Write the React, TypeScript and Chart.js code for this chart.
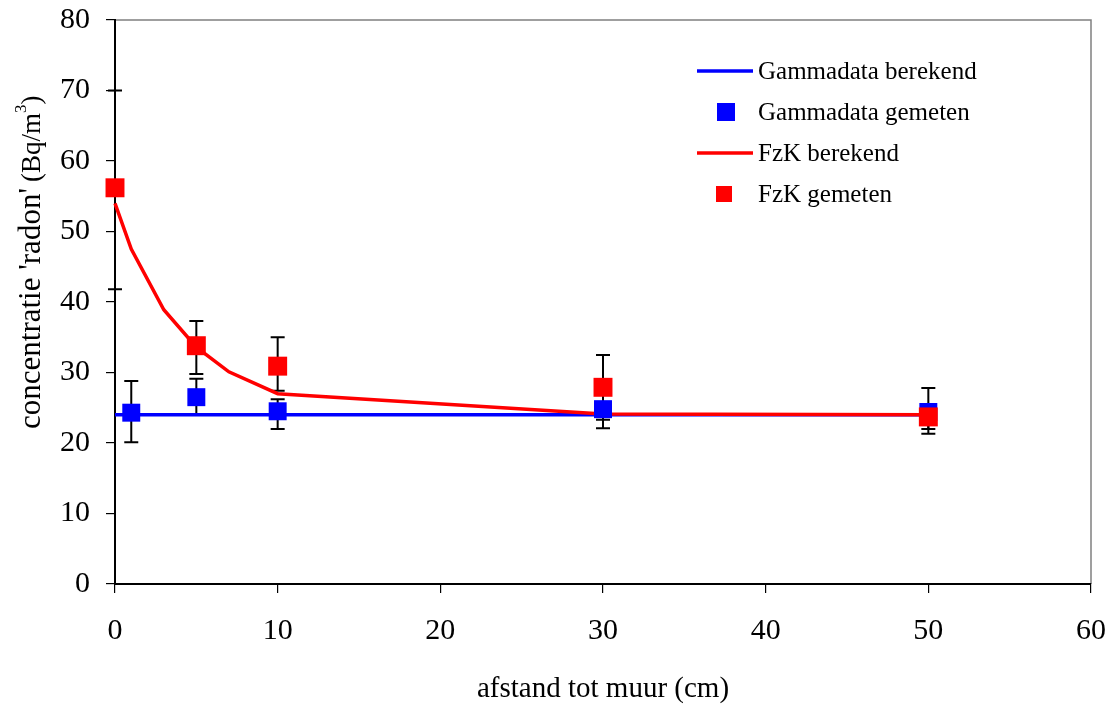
import React, { useEffect, useRef } from "react";
import { Chart, registerables } from "chart.js";

Chart.register(...registerables);

// ---- data ----
const gammaCalcX = [0, 50];
const gammaCalcY = [24, 24];

const gammaMeasX = [1, 5, 10, 30, 50];
const gammaMeasY = [24.3, 26.5, 24.5, 24.8, 24.4];
const gammaMeasLow = [20.1, 24.1, 22.0, 22.1, 21.3];
const gammaMeasHigh = [28.8, 29.1, 26.2, 27.0, 27.8];

const fzkCalcX = [0, 1, 3, 5, 7, 10, 30, 50];
const fzkCalcY = [54.0, 47.5, 38.9, 33.6, 30.1, 27.0, 24.1, 24.0];

const fzkMeasX = [0, 5, 10, 30, 50];
const fzkMeasY = [56.2, 33.8, 30.9, 27.9, 23.7];
const fzkMeasLow = [41.8, 29.8, 27.4, 23.3, 22.0];
const fzkMeasHigh = [70.0, 37.3, 35.0, 32.5, 24.5];

const legendLabels = ["Gammadata berekend", "Gammadata gemeten", "FzK berekend", "FzK gemeten"];
const xTitle = "afstand tot muur (cm)";
const yTitleMain = "concentratie 'radon'";
const yTitleUnit = "(Bq/m";
const yTitleSup = "3";
const yTitleEnd = ")";

const BLUE = "#0000ff";
const RED = "#ff0000";
const FONT = "'Liberation Serif', 'Times New Roman', serif";

const toXY = (xs: number[], ys: number[]) => xs.map((x, i) => ({ x, y: ys[i] }));

const errorBarPlugin = {
  id: "errorBars",
  beforeDatasetsDraw(chart: any) {
    const { ctx, scales } = chart;
    const xs = scales.x;
    const ys = scales.y;
    const sets = [
      [gammaMeasX, gammaMeasLow, gammaMeasHigh],
      [fzkMeasX, fzkMeasLow, fzkMeasHigh],
    ];
    ctx.save();
    ctx.strokeStyle = "#000";
    ctx.lineWidth = 2;
    for (const [xArr, lo, hi] of sets) {
      xArr.forEach((xv: number, i: number) => {
        const px = xs.getPixelForValue(xv);
        const pl = ys.getPixelForValue(lo[i]);
        const ph = ys.getPixelForValue(hi[i]);
        ctx.beginPath();
        ctx.moveTo(px, pl);
        ctx.lineTo(px, ph);
        ctx.moveTo(px - 7, pl);
        ctx.lineTo(px + 7, pl);
        ctx.moveTo(px - 7, ph);
        ctx.lineTo(px + 7, ph);
        ctx.stroke();
      });
    }
    ctx.restore();
  },
};

const decorPlugin = {
  id: "decor",
  beforeDraw(chart: any) {
    const { ctx, chartArea } = chart;
    ctx.save();
    ctx.fillStyle = "#fff";
    ctx.fillRect(0, 0, chart.width, chart.height);
    ctx.restore();
    ctx.save();
    ctx.strokeStyle = "#808080";
    ctx.lineWidth = 1.5;
    ctx.beginPath();
    ctx.moveTo(chartArea.left, chartArea.top);
    ctx.lineTo(chartArea.right, chartArea.top);
    ctx.lineTo(chartArea.right, chartArea.bottom);
    ctx.stroke();
    ctx.restore();
  },
  afterDraw(chart: any) {
    const { ctx, chartArea } = chart;
    ctx.save();
    ctx.fillStyle = "#000";
    // x title
    ctx.font = `29px ${FONT}`;
    ctx.textAlign = "center";
    ctx.textBaseline = "alphabetic";
    ctx.fillText(xTitle, (chartArea.left + chartArea.right) / 2, 697);
    // y title (rotated, mixed fonts)
    ctx.translate(40, 429);
    ctx.rotate(-Math.PI / 2);
    ctx.textAlign = "left";
    let x = 0;
    ctx.font = `31px ${FONT}`;
    ctx.fillText(yTitleMain, x, 0);
    x += ctx.measureText(yTitleMain).width + 6;
    ctx.font = `27px ${FONT}`;
    ctx.fillText(yTitleUnit, x, 0);
    x += ctx.measureText(yTitleUnit).width;
    ctx.font = `17px ${FONT}`;
    ctx.fillText(yTitleSup, x, -14);
    x += ctx.measureText(yTitleSup).width;
    ctx.font = `27px ${FONT}`;
    ctx.fillText(yTitleEnd, x, 0);
    ctx.restore();

    // legend
    ctx.save();
    const rows = [71, 112, 153, 194];
    ctx.lineWidth = 3.5;
    ctx.strokeStyle = BLUE;
    ctx.beginPath();
    ctx.moveTo(697, rows[0]);
    ctx.lineTo(753, rows[0]);
    ctx.stroke();
    ctx.strokeStyle = RED;
    ctx.beginPath();
    ctx.moveTo(697, rows[2]);
    ctx.lineTo(753, rows[2]);
    ctx.stroke();
    ctx.fillStyle = BLUE;
    ctx.fillRect(726 - 9, rows[1] - 9, 18, 18);
    ctx.fillStyle = RED;
    ctx.fillRect(724 - 8, rows[3] - 8, 16, 16);
    ctx.fillStyle = "#000";
    ctx.font = `25px ${FONT}`;
    ctx.textAlign = "left";
    ctx.textBaseline = "middle";
    legendLabels.forEach((t, i) => ctx.fillText(t, 758, rows[i] + 1));
    ctx.restore();
  },
};

export default function App() {
  const ref = useRef<HTMLCanvasElement | null>(null);
  useEffect(() => {
    if (!ref.current) return;
    const chart = new Chart(ref.current, {
      type: "scatter",
      data: {
        datasets: [
          {
            label: legendLabels[0],
            data: toXY(gammaCalcX, gammaCalcY),
            showLine: true,
            borderColor: BLUE,
            borderWidth: 3.5,
            pointRadius: 0,
            order: 4,
            clip: false,
          },
          {
            label: legendLabels[2],
            data: toXY(fzkCalcX, fzkCalcY),
            showLine: true,
            borderColor: RED,
            borderWidth: 3.5,
            pointRadius: 0,
            order: 3,
            clip: false,
          },
          {
            label: legendLabels[1],
            data: toXY(gammaMeasX, gammaMeasY),
            showLine: false,
            pointStyle: "rect",
            pointRadius: 12.7,
            pointBackgroundColor: BLUE,
            pointBorderWidth: 0,
            order: 2,
            clip: false,
          },
          {
            label: legendLabels[3],
            data: toXY(fzkMeasX, fzkMeasY),
            showLine: false,
            pointStyle: "rect",
            pointRadius: 13.4,
            pointBackgroundColor: RED,
            pointBorderWidth: 0,
            order: 1,
            clip: false,
          },
        ] as any,
      },
      options: {
        responsive: false,
        animation: false,
        layout: { padding: { top: 20, right: 23, left: 0, bottom: 0 } },
        plugins: {
          legend: { display: false },
          tooltip: { enabled: false },
        },
        scales: {
          x: {
            type: "linear",
            min: 0,
            max: 60,
            ticks: {
              stepSize: 10,
              color: "#000",
              padding: 0,
              font: { family: FONT, size: 30, lineHeight: "76px" },
            },
            grid: {
              drawOnChartArea: false,
              tickLength: 9,
              color: "#000",
              lineWidth: 1.2,
            },
            border: { color: "#000", width: 2 },
            afterFit: (s: any) => {
              s.height = 122;
            },
          },
          y: {
            type: "linear",
            min: 0,
            max: 80,
            ticks: {
              stepSize: 10,
              color: "#000",
              padding: 16,
              font: { family: FONT, size: 30, lineHeight: "6px" },
            },
            grid: {
              drawOnChartArea: false,
              tickLength: 9,
              color: "#000",
              lineWidth: 1.2,
            },
            border: { color: "#000", width: 2 },
            afterFit: (s: any) => {
              s.width = 115;
            },
          },
        },
      },
      plugins: [decorPlugin, errorBarPlugin],
    } as any);
    return () => chart.destroy();
  }, []);
  return (
    <div style={{ position: "fixed", left: 0, top: 0, width: 1114, height: 706, background: "#fff" }}>
      <canvas ref={ref} width={1114} height={706} style={{ display: "block" }} />
    </div>
  );
}
